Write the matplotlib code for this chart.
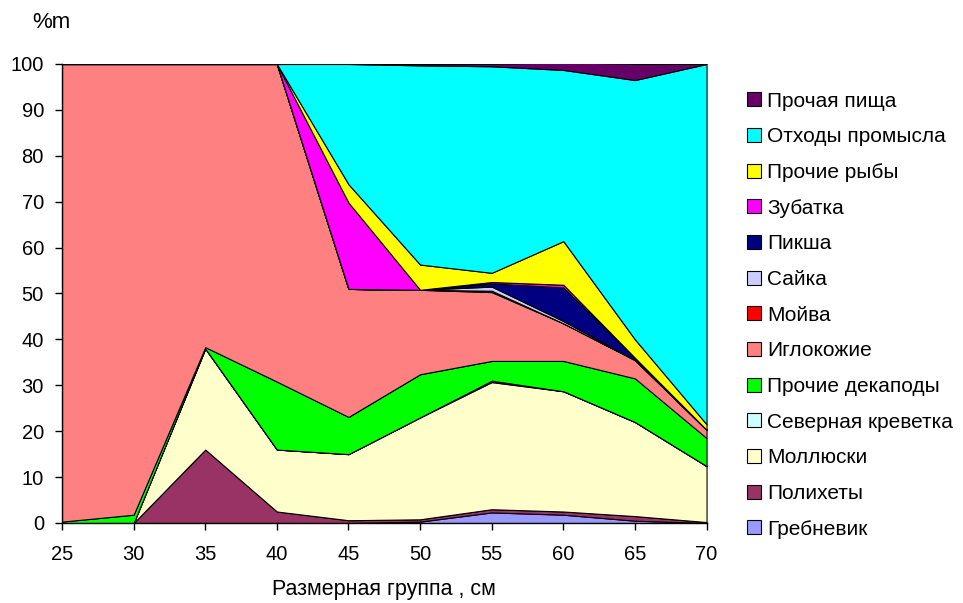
import matplotlib
matplotlib.use("Agg")
import matplotlib.pyplot as plt
from matplotlib.patches import Patch
import numpy as np

plt.rcParams['font.family'] = ['Liberation Sans', 'DejaVu Sans']

# Size groups, cm
sizes = [25, 30, 35, 40, 45, 50, 55, 60, 65, 70]

# Share of diet by mass (%), one list per food item, bottom to top
grebnevik   = [0.0, 0.0, 0.0,  0.0,  0.0,  0.3,  2.3,  1.8,  0.5,  0.0]
polikhety   = [0.0, 0.0, 16.0, 2.5,  0.6,  0.5,  0.7,  0.7,  1.0,  0.2]
mollyuski   = [0.0, 0.0, 22.0, 13.5, 14.4, 22.2, 27.7, 26.2, 20.5, 12.2]
krevetka    = [0.0, 0.0, 0.0,  0.0,  0.0,  0.0,  0.3,  0.0,  0.0,  0.0]
dekapody    = [0.3, 1.8, 0.3,  14.8, 8.1,  9.4,  4.3,  6.6,  9.5,  6.1]
iglokozhie  = [99.7, 98.2, 61.7, 69.2, 27.9, 18.4, 15.0, 8.2, 4.0, 1.8]
moyva       = [0.0, 0.0, 0.0,  0.0,  0.0,  0.0,  0.3,  0.0,  0.0,  0.0]
sayka       = [0.0, 0.0, 0.0,  0.0,  0.0,  0.0,  0.9,  0.5,  0.0,  0.0]
piksha      = [0.0, 0.0, 0.0,  0.0,  0.0,  0.0,  0.7,  7.3,  0.5,  0.0]
zubatka     = [0.0, 0.0, 0.0,  0.0,  18.8, 0.0,  0.3,  0.6,  0.0,  0.0]
prochie_ryby = [0.0, 0.0, 0.0, 0.0,  4.0,  5.5,  2.0,  9.5,  4.0,  1.2]
otkhody     = [0.0, 0.0, 0.0,  0.0,  26.2, 43.4, 45.0, 37.3, 56.5, 78.5]
prochaya    = [0.0, 0.0, 0.0,  0.0,  0.0,  0.3,  0.5,  1.7,  3.5,  0.0]

labels = ["Гребневик", "Полихеты", "Моллюски", "Северная креветка",
          "Прочие декаподы", "Иглокожие", "Мойва", "Сайка", "Пикша",
          "Зубатка", "Прочие рыбы", "Отходы промысла", "Прочая пища"]
colors = ["#9999ff", "#993366", "#ffffcc", "#ccffff", "#00ff00", "#ff8080",
          "#ff0000", "#ccccff", "#000080", "#ff00ff", "#ffff00", "#00ffff",
          "#660066"]
series = [grebnevik, polikhety, mollyuski, krevetka, dekapody, iglokozhie,
          moyva, sayka, piksha, zubatka, prochie_ryby, otkhody, prochaya]

fig = plt.figure(figsize=(9.63, 6.03), dpi=100)
ax = fig.add_axes([0.0644, 0.1327, 0.6693, 0.7612])

ax.stackplot(sizes, *series, colors=colors, edgecolor="black", linewidth=0.8)

ax.set_xlim(25, 70)
ax.set_ylim(0, 100)
ax.set_xticks(sizes)
ax.set_yticks(np.arange(0, 101, 10))
ax.tick_params(axis="both", labelsize=14.5, direction="out", length=5,
               width=1, colors="black")
ax.tick_params(axis="x", pad=11)
ax.tick_params(axis="y", pad=8)
for side in ("top", "right"):
    ax.spines[side].set_visible(False)
for side in ("left", "bottom"):
    ax.spines[side].set_linewidth(1)

ax.set_xlabel("Размерная группа , см", fontsize=15.5, labelpad=11)
fig.text(0.034, 0.963, "%m", fontsize=16, ha="left", va="center")

handles = [Patch(facecolor=c, edgecolor="black", linewidth=0.8)
           for c in colors]
leg = fig.legend(handles[::-1], labels[::-1], loc="upper left",
                 bbox_to_anchor=(0.776, 0.848), frameon=False, fontsize=15,
                 handlelength=0.65, handleheight=0.65, handletextpad=0.3,
                 labelspacing=0.80, borderaxespad=0, borderpad=0)

fig.savefig("out.png", dpi=100)
